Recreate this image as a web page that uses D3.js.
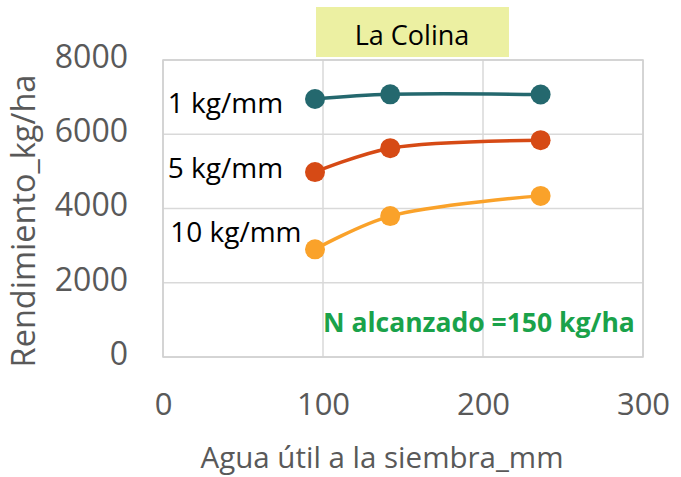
<!DOCTYPE html>
<html>
<head>
<meta charset="utf-8">
<script src="https://cdn.jsdelivr.net/npm/d3@7"></script>
<style>
  body { margin: 0; background: #fff; }
  text { font-family: "Open Sans", "Noto Sans", sans-serif; }
</style>
</head>
<body>
<div id="chart"></div>
<script>
// data
var agua = [95, 142, 236];
var serie1 = [6950, 7075, 7070];     // 1 kg/mm
var serie5 = [4980, 5625, 5840];     // 5 kg/mm
var serie10 = [2900, 3795, 4340];    // 10 kg/mm
var seriesNames = ["1 kg/mm", "5 kg/mm", "10 kg/mm"];
var seriesColors = ["#24686e", "#d64a15", "#faa22a"];
var xTicks = [0, 100, 200, 300];
var yTicks = [0, 2000, 4000, 6000, 8000];
// label anchors in data units
var labelX = [3, 3, 4.5];
var labelY = [6560, 4810, 3090];

var width = 681, height = 477;
var m = { left: 163, right: 38, top: 60, bottom: 120 };

var svg = d3.select("#chart").append("svg")
    .attr("width", width).attr("height", height);

var x = d3.scaleLinear().domain([0, 300]).range([m.left, width - m.right]);
var y = d3.scaleLinear().domain([0, 8000]).range([height - m.bottom, m.top]);

// grid
svg.append("g").selectAll("line.h").data(yTicks).enter().append("line")
    .attr("x1", x(0)).attr("x2", x(300))
    .attr("y1", function(d){ return y(d); }).attr("y2", function(d){ return y(d); })
    .style("stroke", "#d9d9d9").style("stroke-width", 1.5);
svg.append("g").selectAll("line.v").data(xTicks).enter().append("line")
    .attr("y1", y(0)).attr("y2", y(8000))
    .attr("x1", function(d){ return x(d); }).attr("x2", function(d){ return x(d); })
    .style("stroke", "#d9d9d9").style("stroke-width", 1.5);

// tick labels
var yAxis = svg.append("g").attr("transform", "translate(" + (x(0) - 35) + ",-3)")
    .call(d3.axisLeft(y).tickValues(yTicks).tickFormat(d3.format("d")).tickSize(0).tickPadding(0));
yAxis.select(".domain").remove();
yAxis.selectAll("text").style("font-size", "32px").style("fill", "#595959")
    .style("font-family", "'Open Sans', sans-serif");

var xAxis = svg.append("g").attr("transform", "translate(0," + (y(0) + 36) + ")")
    .call(d3.axisBottom(x).tickValues(xTicks).tickFormat(d3.format("d")).tickSize(0).tickPadding(0));
xAxis.select(".domain").remove();
xAxis.selectAll("text").style("font-size", "31px").style("fill", "#595959")
    .style("font-family", "'Open Sans', sans-serif");

// axis titles
svg.append("text").text("Agua útil a la siembra_mm")
    .attr("x", 382).attr("y", 468)
    .attr("text-anchor", "middle")
    .style("font-size", "29.5px").style("fill", "#595959");
svg.append("text").text("Rendimiento_kg/ha")
    .attr("transform", "translate(35," + 221 + ") rotate(-90)")
    .attr("text-anchor", "middle")
    .style("font-size", "32.5px").style("fill", "#595959");

// series
var all = [serie1, serie5, serie10];
var line = d3.line()
    .x(function(d, i){ return x(agua[i]); })
    .y(function(d){ return y(d); })
    .curve(d3.curveCatmullRom.alpha(0.5));

all.forEach(function(s, k){
    svg.append("path").datum(s)
        .attr("d", line)
        .style("fill", "none")
        .style("stroke", seriesColors[k])
        .style("stroke-width", 3.5);
    svg.append("g").selectAll("circle").data(s).enter().append("circle")
        .attr("cx", function(d, i){ return x(agua[i]); })
        .attr("cy", function(d){ return y(d); })
        .attr("r", 10)
        .style("fill", seriesColors[k]);
    svg.append("text").text(seriesNames[k])
        .attr("x", x(labelX[k])).attr("y", y(labelY[k]))
        .style("font-size", "28px").style("fill", "#000");
});

// annotation
svg.append("text").text("N alcanzado =150 kg/ha")
    .attr("x", x(100)).attr("y", y(670))
    .style("font-size", "26.5px").style("font-weight", "bold").style("fill", "#1aa24a");

// plot border
svg.append("rect")
    .attr("x", x(0)).attr("y", y(8000))
    .attr("width", x(300) - x(0)).attr("height", y(0) - y(8000))
    .style("fill", "none").style("stroke", "#d0d0d0").style("stroke-width", 1.5);

// title box
svg.append("rect")
    .attr("x", 316).attr("y", 7).attr("width", 193).attr("height", 50)
    .style("fill", "#ecf0a2");
svg.append("text").text("La Colina")
    .attr("x", 412).attr("y", 45)
    .attr("text-anchor", "middle")
    .style("font-size", "27px").style("fill", "#000");
</script>
</body>
</html>
